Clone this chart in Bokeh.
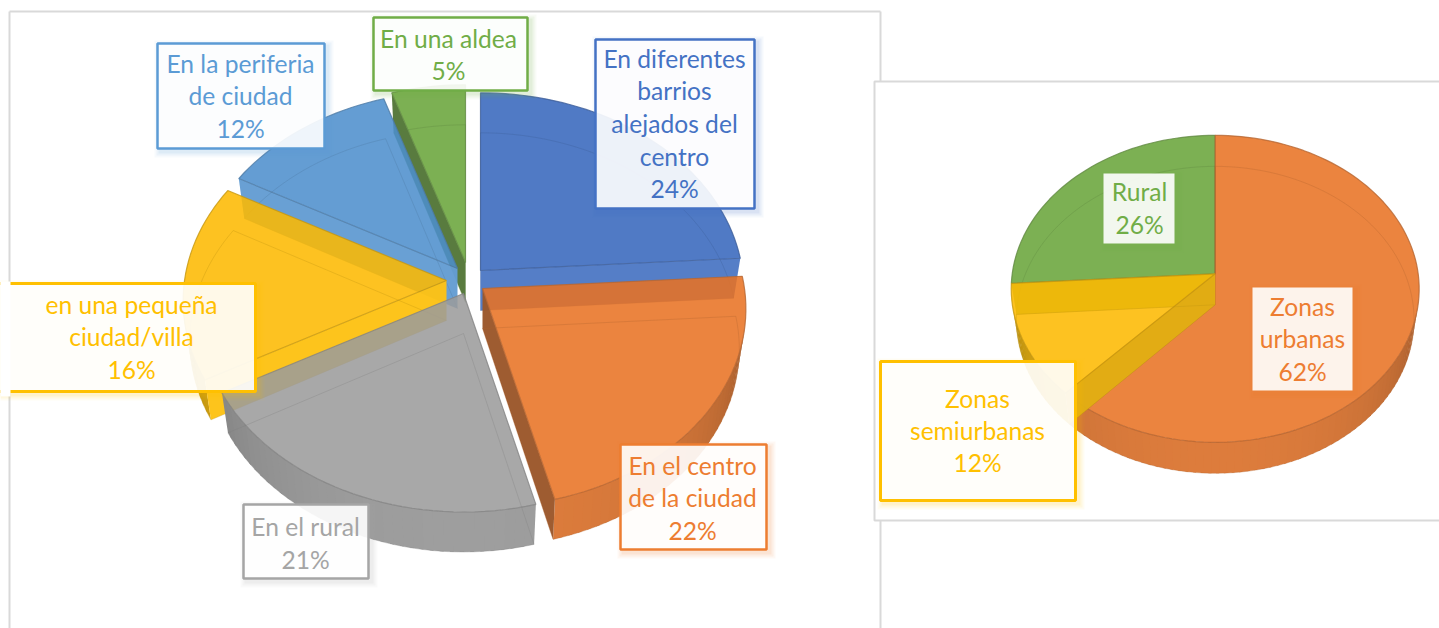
import math
from bokeh.plotting import figure
from bokeh.models import Range1d
from bokeh.core.properties import value
from bokeh.embed import file_html
from bokeh.resources import INLINE

# ---- data ----
slices_a = ["En diferentes barrios alejados del centro", "En el centro de la ciudad", "En el rural",
            "en una pequeña ciudad/villa", "En la periferia de ciudad", "En una aldea"]
values_a = [24, 22, 21, 16, 12, 5]
slices_b = ["Zonas urbanas", "Zonas semiurbanas", "Rural"]
values_b = [62, 12, 26]

label_lines_a = [["En diferentes", "barrios", "alejados del", "centro", "24%"],
                 ["En el centro", "de la ciudad", "22%"],
                 ["En el rural", "21%"],
                 ["en una pequeña", "ciudad/villa", "16%"],
                 ["En la periferia", "de ciudad", "12%"],
                 ["En una aldea", "5%"]]
label_lines_b = [["Zonas", "urbanas", "62%"],
                 ["Zonas", "semiurbanas", "12%"],
                 ["Rural", "26%"]]

# ---- style and layout ----
face_a = ["#507AC5", "#EB8440", "#A8A8A8", "#FDC215", "#649DD3", "#7CB054"]
ink_a = ["#4472C4", "#ED7D31", "#A5A5A5", "#FFC000", "#5B9BD5", "#70AD47"]
face_b = ["#EB8440", "#FDC215", "#7CB054"]
ink_b = ["#ED7D31", "#FFC000", "#70AD47"]
ALPHA = 0.87

pie_a = dict(rx=262, ry=196, k=0.103, depth=40, cx=465, cy=280)
offset_a = [(15, -10), (17, 8), (-2, 13), (-19, 0), (-8, -12), (0, -18)]
order_a = [5, 4, 0, 3, 1, 2]

pie_b = dict(rx=203, ry=152, k=0.098, depth=31, cx=1214.7, cy=273.3)
offset_b = [(0, 0), (0, 0), (0, 0)]
order_b = [2, 0, 1]

# box: x0, y0, x1, y1, border width, first-line y, line step, text centre x
boxes_a = [(595, 39, 754, 208, 2.5, 57.5, 32.7, 674),
           (620, 444, 766, 549, 2.5, 464.5, 32.5, 692),
           (243, 504, 368, 578, 2.5, 525.5, 33, 305),
           (-6, 283, 255, 391, 3, 303.5, 32.5, 131),
           (157, 43, 324, 148, 2.5, 62.5, 32.7, 240),
           (373, 17, 527, 90, 2.5, 37.5, 32, 448)]
boxes_b = [(1252, 287, 1352, 390, 0, 305.5, 32.5, 1302),
           (880, 361, 1075, 500, 3, 397.5, 32, 977),
           (1103, 173, 1174, 243, 0, 190.5, 33, 1139)]

FONT = "Lato"
FONT_SIZE = "24.6px"

p = figure(width=1439, height=628, x_range=Range1d(0, 1439), y_range=Range1d(628, 0),
           output_backend="svg", toolbar_location=None, min_border=0)
p.axis.visible = False
p.grid.visible = False
p.outline_line_color = None
p.background_fill_color = "white"
p.border_fill_color = "white"


def rgb(h):
    return tuple(int(h[i:i + 2], 16) for i in (1, 3, 5))


def to_hex(c):
    return "#%02x%02x%02x" % tuple(max(0, min(255, round(v))) for v in c)


def shade(h, s):
    return to_hex([v * s for v in rgb(h)])


def base_for(h):
    return to_hex([(v - (1 - ALPHA) * 255) / ALPHA for v in rgb(h)])


def clamp(v):
    return max(0.0, min(1.0, v))


def point(pie, apex, deg, bottom=False):
    t = math.radians(deg)
    s, c = math.sin(t), math.cos(t)
    f = 1 / (1 + pie["k"] * c)
    rx = pie["rx"] * (0.975 if bottom else 1)
    return (apex[0] + rx * s * f,
            apex[1] - pie["ry"] * c * f + (pie["depth"] if bottom else 0))


def arc_degs(a, b):
    n = max(2, int((b - a) / 2))
    return [a + (b - a) * i / n for i in range(n + 1)]


def draw_pie(pie, vals, faces, offsets, order):
    total = sum(vals)
    starts, cum = [], 0
    for v in vals:
        starts.append(cum * 360 / total)
        cum += v
    for i in order:
        a, b = starts[i], starts[i] + vals[i] * 360 / total
        face = faces[i]
        apex = (pie["cx"] + offsets[i][0], pie["cy"] + offsets[i][1])
        apex_low = (apex[0], apex[1] + pie["depth"])
        degs = arc_degs(a, b)
        top = [point(pie, apex, d) for d in degs]
        low = [point(pie, apex, d, True) for d in degs]

        # outer wall, shaded by direction; each band overlaps the next to hide seams
        front = [d for d in degs if math.cos(math.radians(d)) < -0.17]
        for j, (d0, d1) in enumerate(zip(front[:-1], front[1:])):
            m = math.radians((d0 + d1) / 2)
            d2 = d1 + 0.8 if j < len(front) - 2 else d1
            q = [point(pie, apex, d0), point(pie, apex, d2),
                 point(pie, apex, d2, True), point(pie, apex, d0, True)]
            col = shade(face, 0.6 + 0.34 * abs(math.cos(m)) ** 0.7)
            p.patch([v[0] for v in q], [v[1] for v in q], fill_color=col, line_color=None)

        # cut walls that face the viewer
        walls = []
        if math.sin(math.radians(b)) > 0.01:
            walls.append((b, top[-1], low[-1]))
        if math.sin(math.radians(a)) < -0.01:
            walls.append((a, top[0], low[0]))
        for d, t_pt, l_pt in walls:
            c = abs(math.cos(math.radians(d)))
            sh = 1 - 0.12 * clamp((c - 0.5) / 0.25) - 0.25 * clamp((c - 0.75) / 0.25)
            q = [apex, t_pt, l_pt, apex_low]
            p.patch([v[0] for v in q], [v[1] for v in q], fill_color=shade(face, sh), fill_alpha=0.97,
                    line_color=None)

        # top face
        tx = [apex[0]] + [v[0] for v in top]
        ty = [apex[1]] + [v[1] for v in top]
        p.patch(tx, ty, fill_color=base_for(face), fill_alpha=ALPHA,
                line_color=shade(face, 0.78), line_alpha=0.8, line_width=1.2)

        # bottom face seen through the top
        bx = [apex_low[0]] + [v[0] for v in low] + [apex_low[0]]
        by = [apex_low[1]] + [v[1] for v in low] + [apex_low[1]]
        p.line(bx, by, line_color=shade(face, 0.75), line_alpha=0.3, line_width=1)


def draw_box(box, lines, color):
    x0, y0, x1, y1, bw, ty, step, tx = box
    for g, al in ((6, 0.05), (4, 0.07), (2, 0.09)):
        p.quad(left=x0 - g + 3, right=x1 + g + 3, top=y0 - g + 3, bottom=y1 + g + 3,
               fill_color=color, fill_alpha=al, line_color=None)
    p.quad(left=x0, right=x1, top=y0, bottom=y1, fill_color="white", fill_alpha=0.9,
           line_color=color if bw else None, line_width=bw if bw else 0)
    for j, s in enumerate(lines):
        p.text(x=[tx], y=[ty + j * step], text=[s], text_color=color,
               text_font=value(FONT), text_font_size=value(FONT_SIZE),
               text_align="center", text_baseline="middle")


# frames
FRAME = "#D9D9D9"
p.line([9, 9], [11, 640], line_color=FRAME, line_width=2)
p.line([9, 880], [11, 11], line_color=FRAME, line_width=2)
p.line([880, 880], [11, 640], line_color=FRAME, line_width=2)

draw_pie(pie_a, values_a, face_a, offset_a, order_a)
for k in order_a:
    draw_box(boxes_a[k], label_lines_a[k], ink_a[k])
# the cut-off label stops short of the page edge
p.quad(left=-2, right=10, top=281, bottom=396, fill_color="white", line_color=None)

p.quad(left=874, right=1450, top=81, bottom=520, fill_color="white", fill_alpha=1,
       line_color=FRAME, line_width=2)
draw_pie(pie_b, values_b, face_b, offset_b, order_b)
for k in order_b:
    draw_box(boxes_b[k], label_lines_b[k], ink_b[k])

open("out.html", "w").write(file_html(p, INLINE))
